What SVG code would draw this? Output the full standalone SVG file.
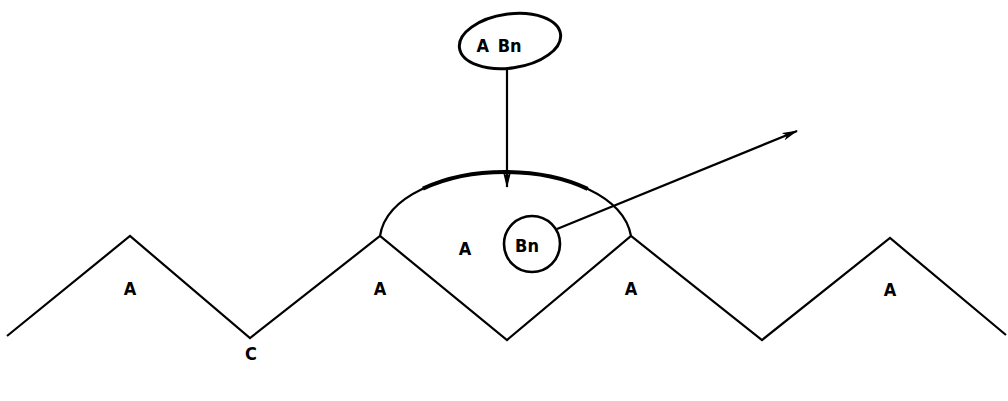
<svg xmlns="http://www.w3.org/2000/svg" width="1008" height="401" viewBox="0 0 1008 401">
<defs>
<style>
.ln{fill:none;stroke:#000;stroke-width:2.2;stroke-linejoin:miter}
.t{font-family:"DejaVu Sans",sans-serif;font-stretch:condensed;font-weight:bold;font-size:18px;fill:#000;text-anchor:middle}
</style>
<marker id="ah" markerWidth="16" markerHeight="8" refX="15" refY="4" orient="auto" markerUnits="userSpaceOnUse">
<path d="M0,0 L16,4 L0,8 L4,4 Z" fill="#000"/>
</marker>
</defs>
<rect width="1008" height="401" fill="#fff"/>
<g id="zigzag">
<polyline class="ln" points="7,336 130,236 250,338 380,236 507,340 631,236 762,340 890,238 1006,335"/>
</g>
<g id="dome">
<path class="ln" d="M380,236 C386,196 445,172 505,172 C565,172 624,196 631,236"/>
<path d="M380,236 C386,196 445,172 505,172 C565,172 624,196 631,236" pathLength="100" fill="none" stroke="#000" stroke-width="4" stroke-dasharray="0 22 56 22"/>
</g>
<g id="top-node">
<ellipse cx="510" cy="41" rx="51" ry="27" transform="rotate(-8 510 41)" fill="none" stroke="#000" stroke-width="3"/>
<text class="t" x="499" y="52" word-spacing="3">A Bn</text>
</g>
<g id="bn-node">
<circle cx="532" cy="244" r="28" fill="none" stroke="#000" stroke-width="2.6"/>
<text class="t" x="527" y="252">Bn</text>
</g>
<g id="connectors">
<line class="ln" x1="507" y1="70" x2="507" y2="187" stroke-width="1.4" marker-end="url(#ah)"/>
<line class="ln" x1="557" y1="229" x2="797" y2="131" stroke-width="1.6" marker-end="url(#ah)"/>
</g>
<g id="labels">
<text class="t" x="130" y="295">A</text>
<text class="t" x="380" y="295">A</text>
<text class="t" x="465" y="255">A</text>
<text class="t" x="631" y="295">A</text>
<text class="t" x="890" y="296">A</text>
<text class="t" x="251" y="360">C</text>
</g>
</svg>
